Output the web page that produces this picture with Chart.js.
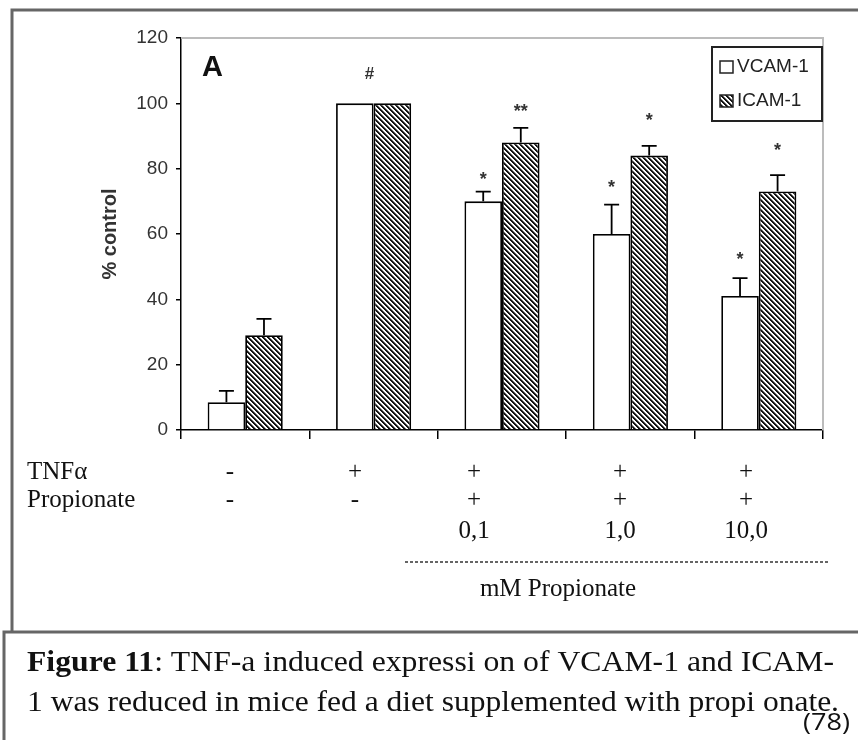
<!DOCTYPE html>
<html>
<head>
<meta charset="utf-8">
<script src="https://cdn.jsdelivr.net/npm/chart.js@4.4.0/dist/chart.umd.min.js"></script>
<style>
  body { margin: 0; background: #fff; }
  canvas { display: block; }
</style>
</head>
<body>
<canvas id="chart" width="858" height="740"></canvas>
<script>
// groups along the x axis
const groups = ["control", "TNFα", "TNFα + 0,1 mM", "TNFα + 1,0 mM", "TNFα + 10,0 mM"];
// % control
const vcam = [8.5, 100, 70, 60, 41];
const icam = [29, 100, 88, 84, 73];
// upper error bars (added on top of the bar)
const vcamErr = [3.5, 0, 3, 9, 5.5];
const icamErr = [5, 0, 4.5, 3, 5];
// significance marks and the value level they sit at
const vcamMarks = ["", "", "*", "*", "*"];
const icamMarks = ["", "", "**", "*", "*"];
const vcamMarkAt = [null, null, 78, 75.5, 53.5];
const icamMarkAt = [null, null, 99, 96, 87];
const groupMarks = ["", "#", "", "", ""];
const groupMarkAt = [null, 109, null, null, null];
// treatment table under the axis
const tnfRow = ["-", "+", "+", "+", "+"];
const propRow = ["-", "-", "+", "+", "+"];
const doseRow = ["", "", "0,1", "1,0", "10,0"];
const tableX = [230, 355, 474, 620, 746];

const SANS = "'Liberation Sans', Arial, sans-serif";
const SERIF = "'Liberation Serif', 'Times New Roman', serif";

// diagonal hatch like the ICAM-1 bars
function hatch() {
  const n = 5;
  const c = document.createElement("canvas");
  c.width = n;
  c.height = n;
  const g = c.getContext("2d");
  const img = g.createImageData(n, n);
  for (let y = 0; y < n; y++) {
    for (let x = 0; x < n; x++) {
      const k = (((x - y) % n) + n) % n;
      const v = k < 2 ? 20 : k === 2 ? 120 : 255;
      const i = (y * n + x) * 4;
      img.data[i] = img.data[i + 1] = img.data[i + 2] = v;
      img.data[i + 3] = 255;
    }
  }
  g.putImageData(img, 0, 0);
  return g.createPattern(c, "repeat");
}

// draw a text squeezed/stretched to a given width
function fitText(ctx, parts, x, y, width) {
  let total = 0;
  parts.forEach((p) => {
    ctx.font = p.font;
    total += ctx.measureText(p.text).width;
  });
  const sx = width / total;
  ctx.save();
  ctx.translate(x, y);
  ctx.scale(sx, 1);
  let cx = 0;
  parts.forEach((p) => {
    ctx.font = p.font;
    ctx.fillText(p.text, cx, 0);
    cx += ctx.measureText(p.text).width;
  });
  ctx.restore();
}

const figurePlugin = {
  id: "figure",
  beforeDraw(chart) {
    const ctx = chart.ctx;
    ctx.save();
    ctx.fillStyle = "#fff";
    ctx.fillRect(0, 0, chart.width, chart.height);
    ctx.restore();
  },
  afterDatasetsDraw(chart) {
    const ctx = chart.ctx;
    const ys = chart.scales.y;
    const errs = [vcamErr, icamErr];
    const marks = [vcamMarks, icamMarks];
    const markAt = [vcamMarkAt, icamMarkAt];
    ctx.save();
    ctx.strokeStyle = "#000";
    ctx.lineWidth = 1.8;
    chart.data.datasets.forEach((ds, i) => {
      const meta = chart.getDatasetMeta(i);
      meta.data.forEach((bar, j) => {
        const e = errs[i][j];
        if (e > 0) {
          const top = ys.getPixelForValue(ds.data[j] + e);
          ctx.beginPath();
          ctx.moveTo(bar.x, bar.y);
          ctx.lineTo(bar.x, top);
          ctx.moveTo(bar.x - 7.5, top);
          ctx.lineTo(bar.x + 7.5, top);
          ctx.stroke();
        }
        if (marks[i][j]) {
          ctx.fillStyle = "#333";
          ctx.font = "bold 18px " + SANS;
          ctx.textAlign = "center";
          ctx.textBaseline = "alphabetic";
          ctx.fillText(marks[i][j], bar.x, ys.getPixelForValue(markAt[i][j]) + 10);
        }
      });
    });
    const xs = chart.scales.x;
    groupMarks.forEach((m, j) => {
      if (!m) return;
      ctx.fillStyle = "#333";
      ctx.font = "bold 17px " + SANS;
      ctx.textAlign = "center";
      ctx.textBaseline = "middle";
      ctx.fillText(m, xs.getPixelForValue(j) - 4, ys.getPixelForValue(groupMarkAt[j]));
    });
    ctx.restore();
  },
  afterDraw(chart) {
    const ctx = chart.ctx;
    const a = chart.chartArea;
    ctx.save();

    // light frame on top and right of the plot
    ctx.strokeStyle = "#bcbcbc";
    ctx.lineWidth = 2;
    ctx.beginPath();
    ctx.moveTo(a.left, a.top);
    ctx.lineTo(a.right, a.top);
    ctx.lineTo(a.right, a.bottom);
    ctx.stroke();

    // panel letter
    ctx.fillStyle = "#111";
    ctx.font = "bold 29px " + SANS;
    ctx.textAlign = "left";
    ctx.textBaseline = "alphabetic";
    ctx.fillText("A", 202, 76);

    // legend box
    ctx.strokeStyle = "#222";
    ctx.lineWidth = 2;
    ctx.strokeRect(712, 47, 110, 74);
    chart.data.datasets.forEach((ds, i) => {
      const y = 61 + i * 34;
      ctx.fillStyle = ds.backgroundColor;
      ctx.fillRect(720, y, 13, 12);
      ctx.strokeStyle = "#222";
      ctx.lineWidth = 1.5;
      ctx.strokeRect(720, y, 13, 12);
      ctx.fillStyle = "#222";
      ctx.font = "19px " + SANS;
      ctx.textBaseline = "middle";
      ctx.fillText(ds.label, 737, y + 6);
    });

    // treatment table
    ctx.fillStyle = "#111";
    ctx.font = "25px " + SERIF;
    ctx.textBaseline = "middle";
    ctx.textAlign = "left";
    ctx.fillText("TNFα", 27, 472);
    ctx.fillText("Propionate", 27, 500);
    ctx.textAlign = "center";
    tableX.forEach((x, j) => {
      ctx.fillText(tnfRow[j], x, 472);
      ctx.fillText(propRow[j], x, 500);
      if (doseRow[j]) ctx.fillText(doseRow[j], x, 531);
    });
    ctx.strokeStyle = "#333";
    ctx.lineWidth = 1.5;
    ctx.setLineDash([3, 2]);
    ctx.beginPath();
    ctx.moveTo(405, 562);
    ctx.lineTo(828, 562);
    ctx.stroke();
    ctx.setLineDash([]);
    ctx.fillText("mM Propionate", 558, 589);

    // figure frame
    ctx.strokeStyle = "#666";
    ctx.lineWidth = 3;
    ctx.beginPath();
    ctx.moveTo(858, 10);
    ctx.lineTo(12, 10);
    ctx.lineTo(12, 631);
    ctx.stroke();
    // caption frame
    ctx.beginPath();
    ctx.moveTo(858, 632);
    ctx.lineTo(4, 632);
    ctx.lineTo(4, 740);
    ctx.stroke();

    // caption
    ctx.fillStyle = "#111";
    ctx.textAlign = "left";
    ctx.textBaseline = "alphabetic";
    fitText(ctx, [
      { text: "Figure 11", font: "bold 30px " + SERIF },
      { text: ": TNF-a induced expressi on of VCAM-1 and ICAM-", font: "30px " + SERIF },
    ], 27, 671, 807);
    fitText(ctx, [
      { text: "1 was reduced in mice fed a diet supplemented with propi onate.", font: "30px " + SERIF },
    ], 27, 711, 812);
    fitText(ctx, [
      { text: "(78)", font: "23px 'Open Sans', sans-serif" },
    ], 803, 730, 47);
    ctx.restore();
  },
};

const ctx = document.getElementById("chart").getContext("2d");
new Chart(ctx, {
  type: "bar",
  plugins: [figurePlugin],
  data: {
    labels: groups,
    datasets: [
      {
        label: "VCAM-1",
        data: vcam,
        backgroundColor: "#ffffff",
        borderColor: "#000",
        borderWidth: 1.8,
      },
      {
        label: "ICAM-1",
        data: icam,
        backgroundColor: hatch(),
        borderColor: "#000",
        borderWidth: 1.8,
      },
    ],
  },
  options: {
    responsive: false,
    animation: false,
    categoryPercentage: 0.585,
    barPercentage: 1.0,
    layout: {
      padding: { left: 90, top: 38, right: 35, bottom: 301 },
    },
    plugins: {
      legend: { display: false },
      tooltip: { enabled: false },
    },
    scales: {
      x: {
        grid: {
          offset: true,
          drawOnChartArea: false,
          drawTicks: true,
          tickLength: 9,
          color: "#000",
          lineWidth: 1.5,
        },
        border: { display: true, color: "#000", width: 1.5 },
        ticks: { display: false },
        afterFit: (scale) => {
          scale.height = 9;
        },
      },
      y: {
        min: 0,
        max: 120,
        ticks: {
          stepSize: 20,
          padding: 8,
          color: "#333",
          font: { family: SANS, size: 19 },
        },
        grid: {
          drawOnChartArea: false,
          drawTicks: true,
          tickLength: 5,
          color: "#000",
          lineWidth: 1.5,
        },
        border: { display: true, color: "#000", width: 1.5 },
        title: {
          display: true,
          text: "% control",
          color: "#333",
          font: { family: SANS, size: 20, weight: "bold" },
          padding: { top: 8, bottom: 0 },
        },
        afterFit: (scale) => {
          scale.width = 91;
        },
      },
    },
  },
});
</script>
</body>
</html>
